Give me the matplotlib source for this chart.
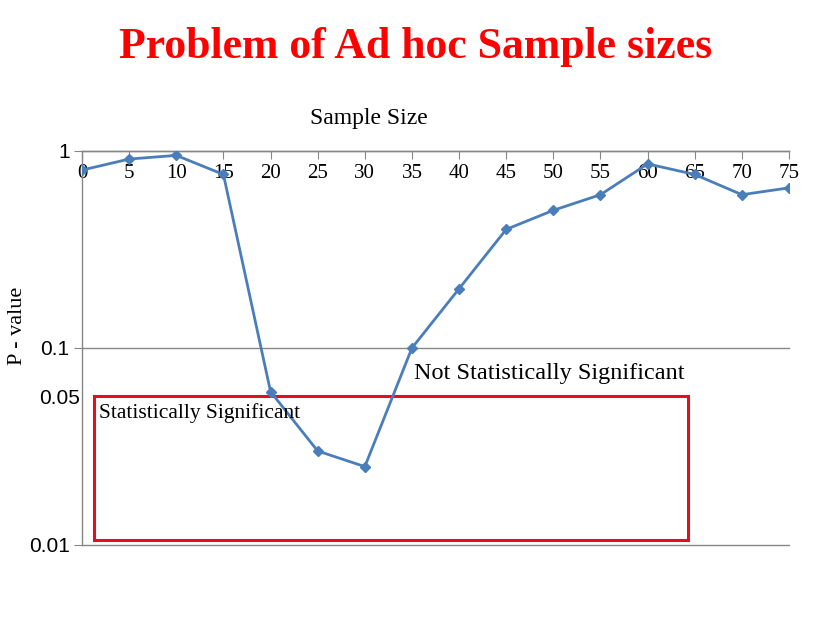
import matplotlib.pyplot as plt
from matplotlib.patches import Rectangle

# valeurs
sample_size = [0, 5, 10, 15, 20, 25, 30, 35, 40, 45, 50, 55, 60, 65, 70, 75]
p_value = [0.80, 0.91, 0.95, 0.76, 0.060, 0.030, 0.025, 0.10, 0.20, 0.40,
           0.50, 0.60, 0.86, 0.76, 0.60, 0.65]

y_ticks = [1, 0.1, 0.01]
y_labels = ["1", "0.1", "0.01"]

title = "Problem of Ad hoc Sample sizes"
x_title = "Sample Size"
y_title = "P - value"

blue = "#4A7EBB"
grey = "#868686"
red = "#E0101C"

fig = plt.figure(figsize=(8.32, 6.26), dpi=100)
ax = fig.add_axes([0.0986, 0.1294, 0.8497, 0.6294])

ax.plot(sample_size, p_value, color=blue, lw=2, marker="D", ms=5, zorder=3)

ax.set_yscale("log")
ax.set_ylim(0.01, 1)
ax.set_xlim(0, 75)
ax.set_yticks(y_ticks)
ax.set_yticklabels(y_labels, family="Liberation Sans", fontsize=15)
ax.minorticks_off()
ax.set_xticks(sample_size)
ax.set_xticklabels([str(s) for s in sample_size], family="Liberation Serif", fontsize=15)

ax.tick_params(axis="x", top=True, bottom=False, labeltop=True, labelbottom=False,
               direction="in", length=6, color=grey, pad=-23)
ax.tick_params(axis="y", direction="out", length=6, color=grey, pad=3)

# lignes de grille (dessinées à la main pour ne pas être coupées au bord)
for yv in y_ticks:
    ax.axhline(yv, color=grey, lw=1, clip_on=False, zorder=1)
for side in ["right", "bottom"]:
    ax.spines[side].set_visible(False)
for side in ["top", "left"]:
    ax.spines[side].set_color(grey)
    ax.spines[side].set_linewidth(1)

# zone significative
ax.add_patch(Rectangle((1.27, 0.0106), 64.3 - 1.27, 0.0571 - 0.0106,
                       fill=False, edgecolor=red, lw=2.2, zorder=2))
ax.text(0.024, 0.335, "Statistically Significant", transform=ax.transAxes,
        family="Liberation Serif", fontsize=15.5, va="center", ha="left")
ax.text(0.4696, 0.434, "Not Statistically Significant", transform=ax.transAxes,
        family="Liberation Serif", fontsize=17.5, va="center", ha="left")
ax.text(-0.003, 0.372, "0.05", transform=ax.transAxes, family="Liberation Sans",
        fontsize=15, va="center", ha="right")

fig.text(0.5, 0.925, title, ha="center", va="center", family="Liberation Serif",
         fontweight="bold", fontsize=31.5, color="red")
fig.text(0.4435, 0.81, x_title, ha="center", va="center", family="Liberation Serif",
         fontsize=17)
fig.text(0.0216, 0.48, y_title, ha="center", va="center", rotation=90,
         family="Liberation Serif", fontsize=16)

fig.savefig("out.png", dpi=100)
